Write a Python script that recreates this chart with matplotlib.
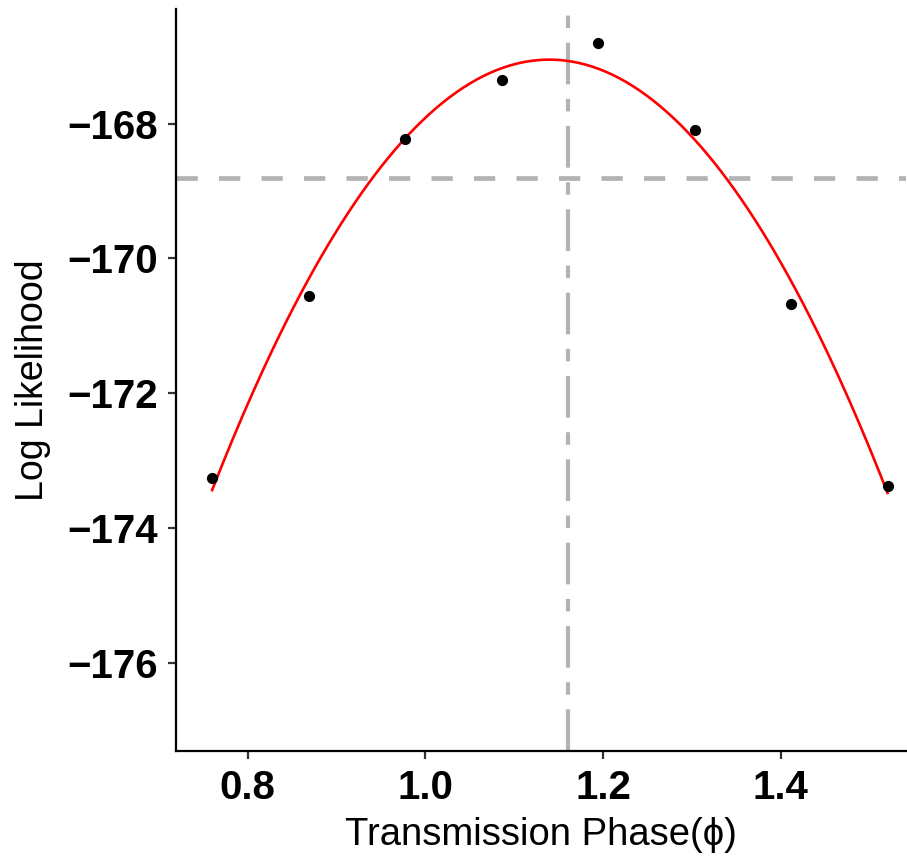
import numpy as np
import matplotlib
matplotlib.use('Agg')
import matplotlib.pyplot as plt

plt.rcParams['font.family'] = ['Liberation Sans', 'DejaVu Sans']

# Profile likelihood points
phase = [0.76, 0.8686, 0.9771, 1.0857, 1.1943, 1.3029, 1.4114, 1.52]
loglik = [-173.26, -170.56, -168.23, -167.36, -166.81, -168.10, -170.68, -173.38]

phase_mle = 1.16          # vertical reference line
cutoff = -168.81          # horizontal reference line (max - 2)

x_ticks = [0.8, 1.0, 1.2, 1.4]
y_ticks = [-168, -170, -172, -174, -176]

# quadratic fit through the points
coef = np.polyfit(phase, loglik, 2)
xs = np.linspace(min(phase), max(phase), 200)
ys = np.polyval(coef, xs)

fig = plt.figure(figsize=(9.07, 8.58), dpi=100)
ax = fig.add_axes([0.194, 0.1247, 0.805, 0.8648])

ax.axhline(cutoff, color='#B3B3B3', lw=3.4, linestyle=(0, (4.5, 4.5)), zorder=1)
ax.axvline(phase_mle, color='#B3B3B3', lw=3.0, linestyle=(0, (10, 3.5, 3, 3.5)), zorder=1)
ax.plot(xs, ys, color='#FF0000', lw=1.9, zorder=2)
ax.scatter(phase, loglik, s=65, color='black', zorder=3, linewidths=0)

ax.set_xlim(0.7193, 1.5409)
ax.set_ylim(-177.31, -166.30)
ax.set_xticks(x_ticks)
ax.set_yticks(y_ticks)
ax.set_xticklabels(['0.8', '1.0', '1.2', '1.4'])
ax.set_yticklabels(['\u2212168', '\u2212170', '\u2212172', '\u2212174', '\u2212176'])

for side in ['top', 'right']:
    ax.spines[side].set_visible(False)
for side in ['left', 'bottom']:
    ax.spines[side].set_linewidth(1.6)
    ax.spines[side].set_color('black')

ax.tick_params(axis='both', length=6, width=1.6, color='#333333', labelsize=29, pad=7)
for lab in ax.get_xticklabels() + ax.get_yticklabels():
    lab.set_fontweight('bold')
    lab.set_color('black')

ax.set_xlabel('Transmission Phase(\u03d5)', fontsize=27.5, labelpad=7)
ax.set_ylabel('Log Likelihood', fontsize=27, labelpad=12)

fig.savefig('out.png', dpi=100)
